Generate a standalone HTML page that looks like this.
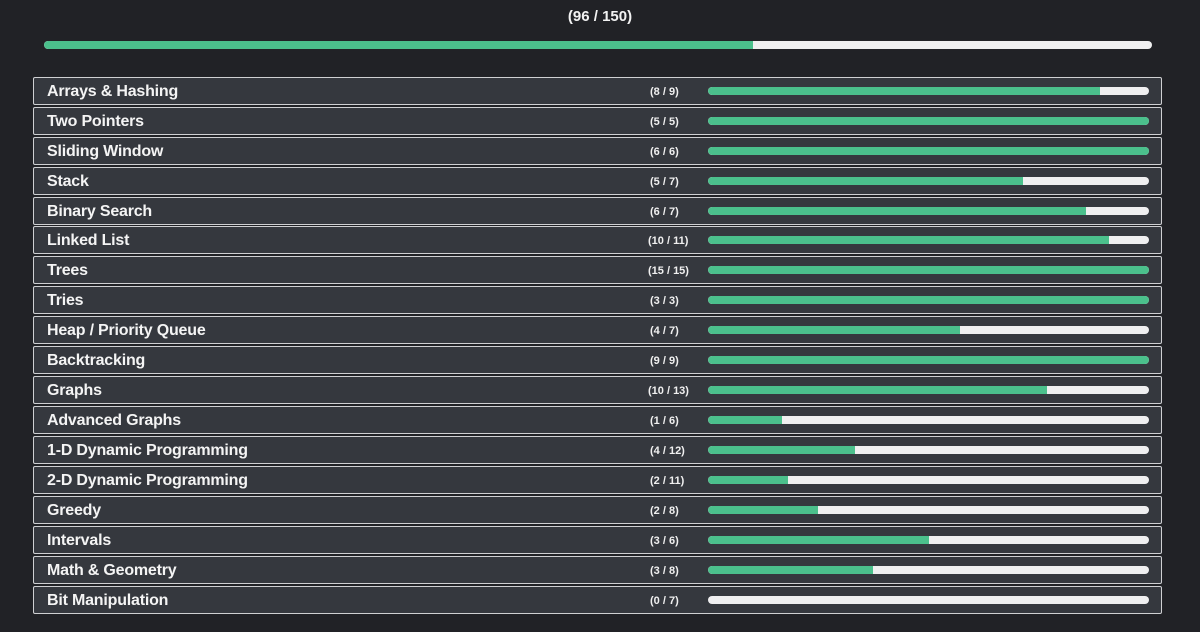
<!DOCTYPE html>
<html><head><meta charset="utf-8"><style>
body{margin:0;width:1200px;height:632px;background:#212226;font-family:"Liberation Sans",sans-serif;position:relative;overflow:hidden}
.title{position:absolute;top:8px;left:0;width:1200px;text-align:center;color:#f2f2f2;font-weight:bold;font-size:15px}
.bar{position:absolute;height:8px;border-radius:4px;background:#efeff0;overflow:hidden}
.bar i{display:block;height:100%;background:#4bc08c;border-radius:4px 0 0 4px}
.row{position:absolute;left:33px;width:1127px;height:26px;background:#35383e;border:1.5px solid #cfd0d2;border-radius:2px}
.row b{position:absolute;left:13px;top:5px;color:#f4f4f4;font-size:16px;letter-spacing:-0.2px}
.row s{text-decoration:none;position:absolute;left:616px;top:8px;color:#f0f0f0;font-size:11px;font-weight:bold}
.row .bar{left:674px;top:9px;width:441px}
</style></head><body>
<div class="title">(96 / 150)</div>
<div class="bar" style="left:44px;top:41px;width:1108px"><i style="width:64%"></i></div>
<div class="row" style="top:77px"><b>Arrays &amp; Hashing</b><s>(8 / 9)</s><div class="bar"><i style="width:88.9%"></i></div></div>
<div class="row" style="top:107px"><b>Two Pointers</b><s>(5 / 5)</s><div class="bar"><i style="width:100%"></i></div></div>
<div class="row" style="top:137px"><b>Sliding Window</b><s>(6 / 6)</s><div class="bar"><i style="width:100%"></i></div></div>
<div class="row" style="top:167px"><b>Stack</b><s>(5 / 7)</s><div class="bar"><i style="width:71.4%"></i></div></div>
<div class="row" style="top:197px"><b>Binary Search</b><s>(6 / 7)</s><div class="bar"><i style="width:85.7%"></i></div></div>
<div class="row" style="top:226px"><b>Linked List</b><s style="left:614px">(10 / 11)</s><div class="bar"><i style="width:90.9%"></i></div></div>
<div class="row" style="top:256px"><b>Trees</b><s style="left:614px">(15 / 15)</s><div class="bar"><i style="width:100%"></i></div></div>
<div class="row" style="top:286px"><b>Tries</b><s>(3 / 3)</s><div class="bar"><i style="width:100%"></i></div></div>
<div class="row" style="top:316px"><b>Heap / Priority Queue</b><s>(4 / 7)</s><div class="bar"><i style="width:57.1%"></i></div></div>
<div class="row" style="top:346px"><b>Backtracking</b><s>(9 / 9)</s><div class="bar"><i style="width:100%"></i></div></div>
<div class="row" style="top:376px"><b>Graphs</b><s style="left:614px">(10 / 13)</s><div class="bar"><i style="width:76.9%"></i></div></div>
<div class="row" style="top:406px"><b>Advanced Graphs</b><s>(1 / 6)</s><div class="bar"><i style="width:16.7%"></i></div></div>
<div class="row" style="top:436px"><b>1-D Dynamic Programming</b><s>(4 / 12)</s><div class="bar"><i style="width:33.3%"></i></div></div>
<div class="row" style="top:466px"><b>2-D Dynamic Programming</b><s>(2 / 11)</s><div class="bar"><i style="width:18.2%"></i></div></div>
<div class="row" style="top:496px"><b>Greedy</b><s>(2 / 8)</s><div class="bar"><i style="width:25%"></i></div></div>
<div class="row" style="top:526px"><b>Intervals</b><s>(3 / 6)</s><div class="bar"><i style="width:50%"></i></div></div>
<div class="row" style="top:556px"><b>Math &amp; Geometry</b><s>(3 / 8)</s><div class="bar"><i style="width:37.5%"></i></div></div>
<div class="row" style="top:586px"><b>Bit Manipulation</b><s>(0 / 7)</s><div class="bar"><i style="width:0%"></i></div></div>
</body></html>
